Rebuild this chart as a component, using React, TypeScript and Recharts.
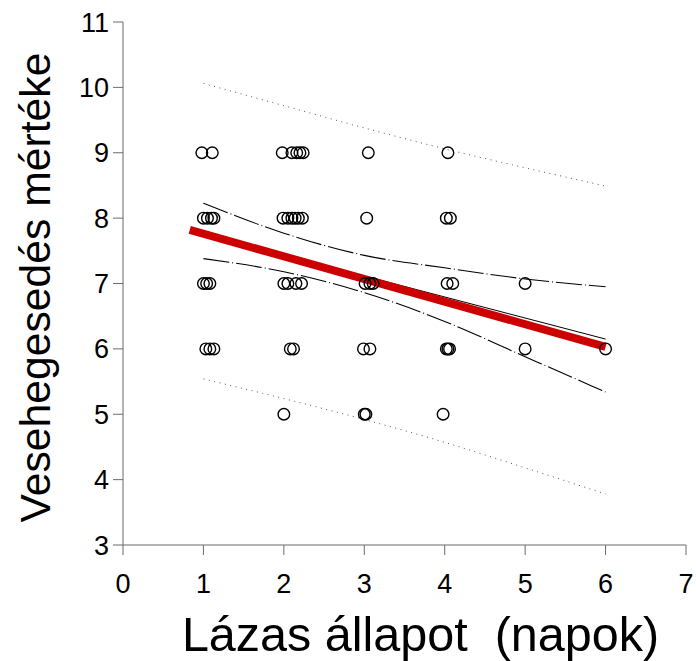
import React from "react";
import {
    ComposedChart,
    Line,
    Scatter,
    XAxis,
    YAxis,
    Label
} from "recharts";

// observed points (x slightly jittered as in the source plot)
const obsX = [
    0.98, 1.11, 1.98, 2.1, 2.16, 2.2, 2.24, 3.05, 4.04,
    1.0, 1.05, 1.1, 1.13, 1.99, 2.05, 2.1, 2.14, 2.18, 2.23, 3.03, 4.02, 4.07,
    1.0, 1.04, 1.08, 2.0, 2.05, 2.15, 2.22, 3.01, 3.07, 3.11, 4.03, 4.1, 5.0,
    1.03, 1.08, 1.13, 2.08, 2.12, 2.99, 3.07, 4.02, 4.04, 4.06, 5.0, 6.0,
    2.0, 3.0, 3.02, 3.98
];
const obsY = [
    9, 9, 9, 9, 9, 9, 9, 9, 9,
    8, 8, 8, 8, 8, 8, 8, 8, 8, 8, 8, 8, 8,
    7, 7, 7, 7, 7, 7, 7, 7, 7, 7, 7, 7, 7,
    6, 6, 6, 6, 6, 6, 6, 6, 6, 6, 6, 6,
    5, 5, 5, 5
];

const bandX = [1, 2, 3, 4, 5, 6];
const ciUpper = [8.23, 7.77, 7.43, 7.24, 7.07, 6.95];
const ciLower = [7.38, 7.18, 6.86, 6.42, 5.88, 5.34];
const piUpper = [10.06, 9.72, 9.38, 9.06, 8.77, 8.49];
const piLower = [5.54, 5.24, 4.92, 4.57, 4.18, 3.78];

const fitX = [1, 6];
const fitY = [7.76, 6.15];
const redX = [0.83, 6];
const redY = [7.82, 6.03];

const xTicks = [0, 1, 2, 3, 4, 5, 6, 7];
const yTicks = [3, 4, 5, 6, 7, 8, 9, 10, 11];

const toRows = (xs: number[], ys: number[]) => xs.map((x, i) => ({ x, y: ys[i] }));

const points = toRows(obsX, obsY);
const axisColor = "#6b6b6b";
const font = "Arial, 'Liberation Sans', sans-serif";

const OpenCircle = (props: any) => (
    <circle cx={props.cx} cy={props.cy} r={5.8} fill="none" stroke="#000" strokeWidth={1.4} />
);

const XTick = ({ x, y, payload }: any) => (
    <text x={x} y={y + 34} textAnchor="middle" style={{ fontSize: "27px", fontFamily: font }} fill="#000">
        {payload.value}
    </text>
);

const YTick = ({ x, y, payload }: any) => (
    <text x={x - 1} y={y + 9.5} textAnchor="end" style={{ fontSize: "27px", fontFamily: font }} fill="#000">
        {payload.value}
    </text>
);

export default function App() {
    return (
        <div style={{ position: "absolute", left: 0, top: 0, background: "#fff" }}>
            <ComposedChart
                width={696}
                height={661}
                margin={{ top: 22, right: 10, bottom: 0, left: 0 }}
                style={{ fontFamily: font }}
            >
                <XAxis
                    dataKey="x"
                    type="number"
                    domain={[0, 7]}
                    ticks={xTicks}
                    allowDataOverflow
                    height={116}
                    stroke={axisColor}
                    tickSize={10}
                    tickMargin={4}
                    tick={<XTick />}
                >
                    <Label
                        content={({ viewBox }: any) => (
                            <text
                                x={viewBox.x + viewBox.width / 2 + 16}
                                y={viewBox.y + 106}
                                textAnchor="middle"
                                fontSize={48.5}
                                fontFamily={font}
                                fill="#000"
                                style={{ whiteSpace: "pre" }}
                            >
                                Lázas állapot  (napok)
                            </text>
                        )}
                    />
                </XAxis>
                <XAxis
                    xAxisId="top"
                    orientation="top"
                    type="number"
                    domain={[0, 7]}
                    height={0}
                    tick={false}
                    tickLine={false}
                    stroke={axisColor}
                />
                <YAxis
                    dataKey="y"
                    type="number"
                    domain={[3, 11]}
                    ticks={yTicks}
                    allowDataOverflow
                    width={123}
                    stroke={axisColor}
                    tickSize={10}
                    tickMargin={3}
                    tick={<YTick />}
                >
                    <Label
                        content={({ viewBox }: any) => {
                            const cx = 50;
                            const cy = viewBox.y + viewBox.height / 2 + 4;
                            return (
                                <text
                                    x={cx}
                                    y={cy}
                                    transform={`rotate(-90 ${cx} ${cy})`}
                                    textAnchor="middle"
                                    fontSize={42.7}
                                    fontFamily={font}
                                    fill="#000"
                                >
                                    Vesehegesedés mértéke
                                </text>
                            );
                        }}
                    />
                </YAxis>
                <YAxis
                    yAxisId="right"
                    orientation="right"
                    type="number"
                    domain={[3, 11]}
                    width={0}
                    tick={false}
                    tickLine={false}
                    stroke={axisColor}
                />

                <Line
                    data={toRows(bandX, piUpper)}
                    dataKey="y"
                    type="monotone"
                    stroke="#555"
                    strokeWidth={1}
                    strokeDasharray="1 4.5"
                    dot={false}
                    isAnimationActive={false}
                />
                <Line
                    data={toRows(bandX, piLower)}
                    dataKey="y"
                    type="monotone"
                    stroke="#555"
                    strokeWidth={1}
                    strokeDasharray="1 4.5"
                    dot={false}
                    isAnimationActive={false}
                />
                <Line
                    data={toRows(bandX, ciUpper)}
                    dataKey="y"
                    type="monotone"
                    stroke="#000"
                    strokeWidth={1.1}
                    strokeDasharray="26 3 1 3"
                    dot={false}
                    isAnimationActive={false}
                />
                <Line
                    data={toRows(bandX, ciLower)}
                    dataKey="y"
                    type="monotone"
                    stroke="#000"
                    strokeWidth={1.1}
                    strokeDasharray="26 3 1 3"
                    dot={false}
                    isAnimationActive={false}
                />
                <Line
                    data={toRows(fitX, fitY)}
                    dataKey="y"
                    type="linear"
                    stroke="#000"
                    strokeWidth={1}
                    dot={false}
                    isAnimationActive={false}
                />
                <Line
                    data={toRows(redX, redY)}
                    dataKey="y"
                    type="linear"
                    stroke="#cc0000"
                    strokeWidth={8}
                    dot={false}
                    isAnimationActive={false}
                />
                <Scatter data={points} dataKey="y" shape={OpenCircle} isAnimationActive={false} />
            </ComposedChart>
        </div>
    );
}
